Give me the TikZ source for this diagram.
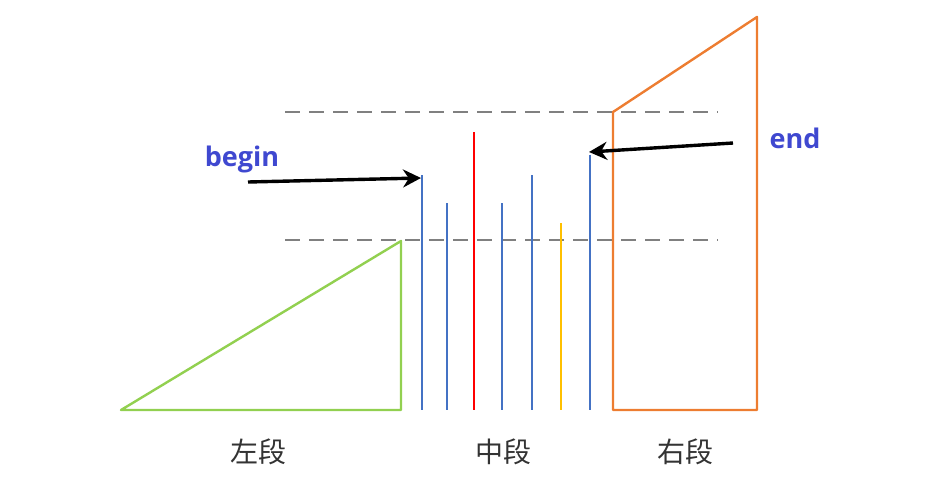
\documentclass[tikz,border=0pt]{standalone}
\usepackage{fontspec}
\newfontfamily\cjk{Noto Sans CJK SC}
\newfontfamily\lab{Open Sans}
\usetikzlibrary{arrows.meta}
\definecolor{lblue}{HTML}{4472C4}
\definecolor{lred}{HTML}{FF0000}
\definecolor{lyellow}{HTML}{FFC000}
\definecolor{lgreen}{HTML}{92D050}
\definecolor{lorange}{HTML}{ED7D31}
\definecolor{lgray}{HTML}{808080}
\definecolor{ltext}{HTML}{3F48D0}
\tikzset{
  bar/.style={line width=2.4pt},
  guide/.style={lgray, line width=2.4pt, dash pattern=on 15pt off 9pt},
  ptr/.style={line width=3.4pt, -{Stealth[length=18pt,width=18pt]}},
  word/.style={font=\lab\bfseries\fontsize{27}{30}\selectfont, text=ltext},
  seg/.style={font=\cjk\fontsize{28}{30}\selectfont, text=black!80},
}
\begin{document}
\begin{tikzpicture}[x=1pt,y=-1pt]
\useasboundingbox (0,0) rectangle (939,493);
% guides
\draw[guide] (285,112) -- (718,112);
\draw[guide] (285,240) -- (718,240);
% green triangle
\draw[lgreen, line width=2.4pt, line join=round] (121,410) -- (401,241) -- (401,410) -- cycle;
% orange shape
\draw[lorange, line width=2.4pt, line join=round] (613,410) -- (613,112) -- (757,17) -- (757,410) -- cycle;
% bars
\coordinate (b1) at (422,175); \coordinate (b1b) at (422,410);
\draw[bar, lblue] (b1) -- (b1b);
\draw[bar, lblue] (447,203) -- (447,410);
\draw[bar, lred] (474,132) -- (474,410);
\draw[bar, lblue] (502,203) -- (502,410);
\draw[bar, lblue] (532,175) -- (532,410);
\draw[bar, lyellow] (561,223) -- (561,410);
\coordinate (b7) at (590,155);
\draw[bar, lblue] (b7) -- (590,410);
% labels
\node[word] (begin) at (242,159) {begin};
\node[word] (end) at (795,138) {end};
\coordinate (bs) at (248,182);
\coordinate (be) at (421,178);
\coordinate (es) at (733,143);
\coordinate (ee) at (589,152);
\draw[ptr] (bs) -- (be);
\draw[ptr] (es) -- (ee);
\node[seg] (l) at (258,452) {左段};
\node[seg] (m) at (503,452) {中段};
\node[seg] (r) at (685,452) {右段};
\end{tikzpicture}
\end{document}
